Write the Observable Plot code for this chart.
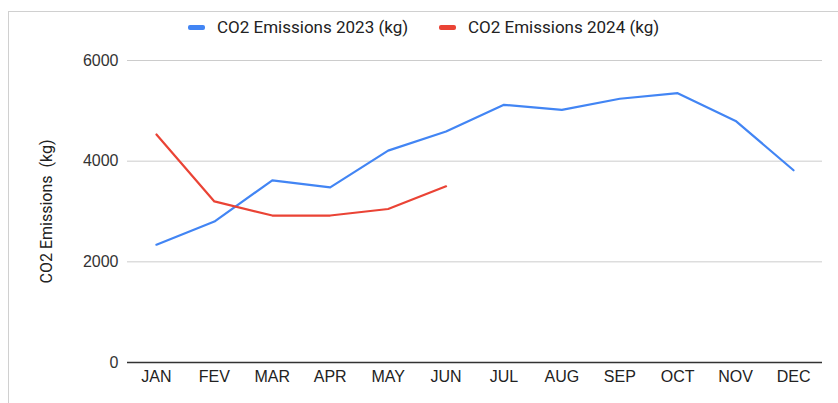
<!DOCTYPE html>
<html>
<head>
<meta charset="utf-8">
<script src="https://cdn.jsdelivr.net/npm/d3@7"></script>
<script src="https://cdn.jsdelivr.net/npm/@observablehq/plot@0.6"></script>
<style>
  html, body { margin: 0; padding: 0; background: #fff; }
  body { width: 838px; height: 403px; position: relative; overflow: hidden; }
  #frame { position: absolute; left: 8px; top: 11px; right: 0; bottom: 0;
           border-left: 1px solid #d0d0d0; border-top: 1px solid #d0d0d0; }
  #legend { position: relative; height: 44px; font-family: Roboto, sans-serif; font-size: 17px; color: #222; }
  .item { position: absolute; top: 16px; height: 22px; line-height: 22px; white-space: nowrap; }
  .sw { position: absolute; top: 9px; width: 17px; height: 5px; border-radius: 2px; }
  .lab { position: absolute; left: 29px; top: 0; }
  #chart { position: relative; }
</style>
</head>
<body>
<div id="frame"></div>
<div id="legend"></div>
<div id="chart"></div>
<script>
const months = ["JAN","FEV","MAR","APR","MAY","JUN","JUL","AUG","SEP","OCT","NOV","DEC"];
const co2_2023 = [2340, 2800, 3620, 3480, 4210, 4590, 5120, 5020, 5240, 5350, 4800, 3820];
const co2_2024 = [4530, 3200, 2920, 2920, 3050, 3500];
const seriesNames = ["CO2 Emissions 2023 (kg)", "CO2 Emissions 2024 (kg)"];
const seriesColors = ["#4285f4", "#ea4335"];
const yTicks = [0, 2000, 4000, 6000];

const rows = [];
co2_2023.forEach((v, i) => rows.push({month: months[i], value: v, series: seriesNames[0]}));
co2_2024.forEach((v, i) => rows.push({month: months[i], value: v, series: seriesNames[1]}));

// legend
const legend = document.getElementById("legend");
const legendLeft = [188, 439];
seriesNames.forEach((name, i) => {
  const it = document.createElement("div");
  it.className = "item";
  it.style.left = legendLeft[i] + "px";
  it.innerHTML = `<span class="sw" style="background:${seriesColors[i]}"></span><span class="lab">${name}</span>`;
  legend.appendChild(it);
});

const chart = Plot.plot({
  width: 838,
  height: 359,
  marginTop: 16,
  marginBottom: 41,
  marginLeft: 127,
  marginRight: 16,
  style: {background: "transparent", overflow: "visible"},
  x: {type: "point", domain: months, padding: 0.5, round: false, label: null},
  y: {domain: [0, 6000], label: null},
  color: {domain: seriesNames, range: seriesColors},
  marks: [
    Plot.ruleY(yTicks.filter(d => d > 0), {stroke: "#cccccc", strokeWidth: 1}),
    Plot.axisY(yTicks, {tickSize: 0, tickPadding: 9, tickFormat: d3.format("d"), fontSize: 16, fontFamily: "Liberation Sans, Arial, sans-serif", fill: "#333",
      label: "CO2 Emissions  (kg)", labelAnchor: "center", labelOffset: 87, labelArrow: "none"}),
    Plot.axisX({tickSize: 0, tickPadding: 8, fontSize: 16, fontFamily: "Liberation Sans, Arial, sans-serif", fill: "#222", label: null}),
    Plot.line(rows, {x: "month", y: "value", z: "series", stroke: "series", strokeWidth: 2.2, curve: "linear"}),
    Plot.ruleY([0], {stroke: "#333", strokeWidth: 1.5})
  ]
});
chart.querySelectorAll("g[aria-label='y-axis label'] text, g[aria-label='y-axis label']").forEach(el => {
  el.setAttribute("font-family", "Roboto, sans-serif");
  el.setAttribute("font-size", "16");
  el.setAttribute("fill", "#222");
});
document.getElementById("chart").appendChild(chart);
</script>
</body>
</html>
